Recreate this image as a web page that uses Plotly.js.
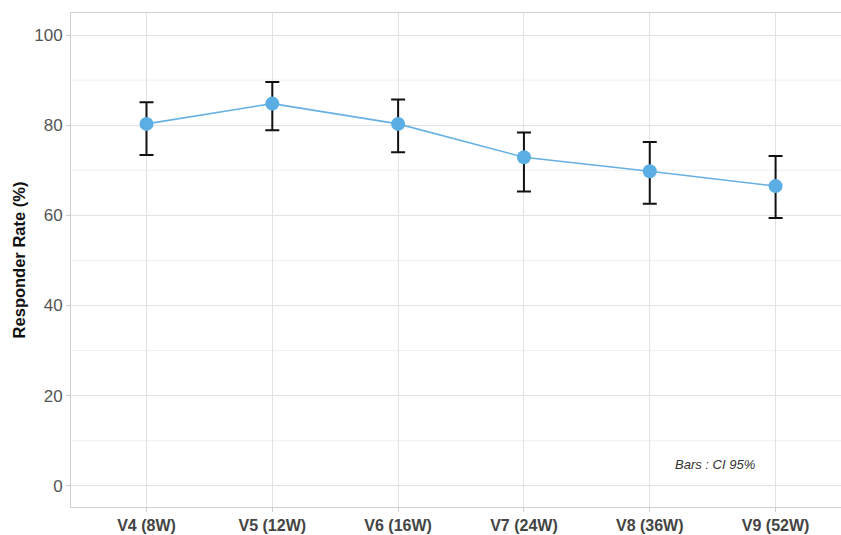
<!DOCTYPE html>
<html>
<head>
<meta charset="utf-8">
<script src="https://cdn.plot.ly/plotly-3.0.1.min.js"></script>
<style>html,body{margin:0;padding:0;background:#fff;}#chart{width:841px;height:535px;}</style>
</head>
<body>
<div id="chart"></div>
<script>
const visits = ["V4 (8W)", "V5 (12W)", "V6 (16W)", "V7 (24W)", "V8 (36W)", "V9 (52W)"];
const rate = [80.3, 84.8, 80.3, 72.9, 69.8, 66.5];
const ciUpper = [85.1, 89.6, 85.7, 78.4, 76.3, 73.2];
const ciLower = [73.4, 78.9, 74.0, 65.3, 62.6, 59.4];
const yTicks = [0, 20, 40, 60, 80, 100];

const errPlus = rate.map((v, i) => ciUpper[i] - v);
const errMinus = rate.map((v, i) => v - ciLower[i]);

const trace = {
  x: visits,
  y: rate,
  type: 'scatter',
  mode: 'lines+markers',
  line: {color: '#66b0e3', width: 1.6},
  marker: {color: '#5aaee3', size: 14},
  error_y: {
    type: 'data', symmetric: false,
    array: errPlus, arrayminus: errMinus,
    color: '#111', thickness: 2, width: 7
  },
  hoverinfo: 'skip'
};

const minorGrid = [];
for (let v = 10; v <= 100; v += 20) {
  minorGrid.push({type: 'line', xref: 'paper', x0: 0, x1: 1, yref: 'y', y0: v, y1: v,
    line: {color: '#f0f0f0', width: 1}, layer: 'below'});
}

const layout = {
  width: 841, height: 535,
  margin: {l: 71, r: 0, t: 13, b: 28},
  paper_bgcolor: '#fff', plot_bgcolor: '#fff',
  showlegend: false,
  font: {family: 'Arial, Liberation Sans, sans-serif'},
  xaxis: {
    type: 'category',
    range: [-0.6, 5.52],
    showgrid: true, gridcolor: '#e2e2e2', gridwidth: 1,
    zeroline: false,
    showline: true, linecolor: '#cfcfcf', linewidth: 1, mirror: true,
    ticks: 'outside', ticklen: 4, tickcolor: '#cfcfcf',
    tickfont: {size: 16, color: '#444', family: 'Arial, Liberation Sans, sans-serif', weight: 'bold'}
  },
  yaxis: {
    range: [-4.7, 104.9],
    tickvals: yTicks,
    ticktext: yTicks.map(String),
    showgrid: true, gridcolor: '#e2e2e2', gridwidth: 1,
    zeroline: false,
    showline: true, linecolor: '#cfcfcf', linewidth: 1, mirror: true,
    ticks: 'outside', ticklen: 4, tickcolor: '#cfcfcf',
    tickfont: {size: 17, color: '#555'},
    title: {text: '<b>Responder Rate (%)</b>', font: {size: 16.5, color: '#111'}, standoff: 4}
  },
  shapes: minorGrid,
  annotations: [{
    xref: 'x', yref: 'y', x: 4.52, y: 4.8,
    text: '<i>Bars : CI 95%</i>', showarrow: false,
    font: {size: 13, color: '#333'}
  }]
};

Plotly.newPlot('chart', [trace], layout, {displayModeBar: false, staticPlot: true});
</script>
</body>
</html>
